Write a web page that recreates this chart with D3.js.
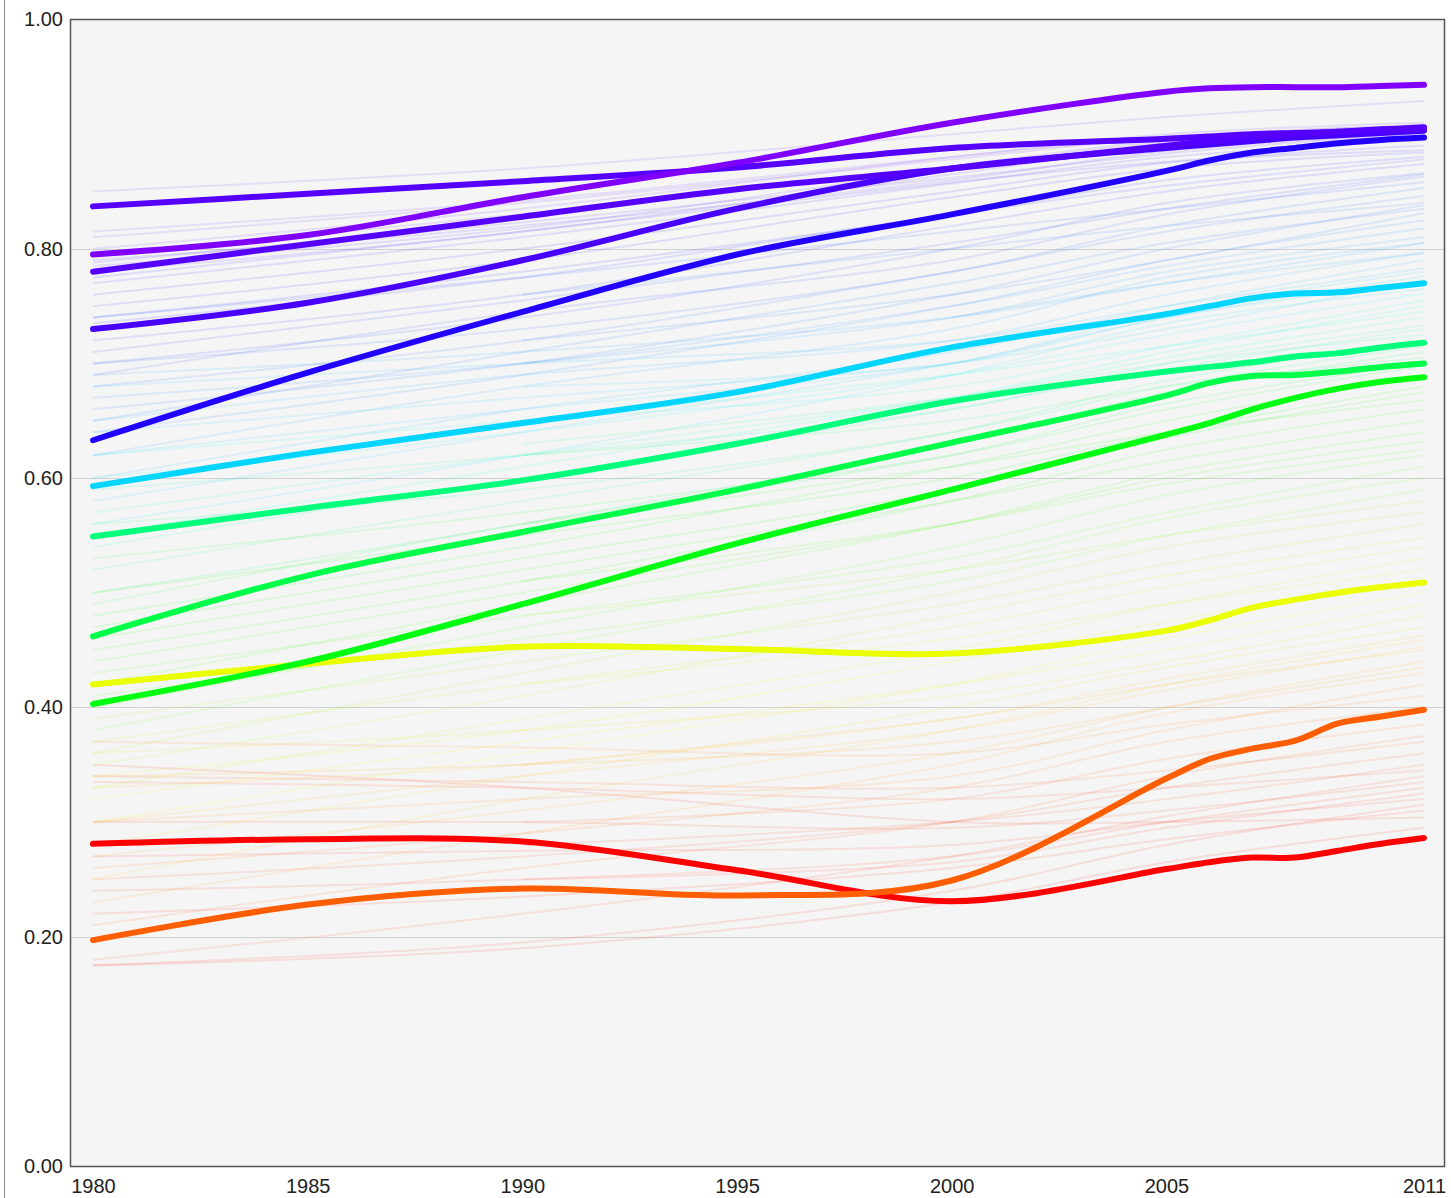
<!DOCTYPE html>
<html>
<head>
<meta charset="utf-8">
<script src="https://cdn.jsdelivr.net/npm/d3@7"></script>
<style>
  body { margin: 0; background: #fff; }
  svg { display: block; }
  .tick text { font-family: "Liberation Sans", Arial, sans-serif; font-size: 20px; fill: #222; }
</style>
</head>
<body>
<div id="chart"></div>
<script>
"use strict";

// years for the highlighted series
var years = [1980, 1985, 1990, 1995, 2000, 2005, 2006, 2007, 2008, 2009, 2010, 2011];
// years for the faint background series
var bgYears = [1980, 1990, 2000, 2005, 2011];

var yTicks = [0, 0.2, 0.4, 0.6, 0.8, 1.0];
var xTicks = [1980, 1985, 1990, 1995, 2000, 2005, 2011];

// highlighted series
var norway   = [0.795, 0.812, 0.845, 0.875, 0.910, 0.937, 0.940, 0.941, 0.941, 0.941, 0.942, 0.943];
var usa      = [0.837, 0.848, 0.859, 0.871, 0.888, 0.896, 0.898, 0.900, 0.901, 0.902, 0.904, 0.906];
var seriesC  = [0.780, 0.804, 0.828, 0.852, 0.870, 0.890, 0.894, 0.898, 0.900, 0.902, 0.904, 0.905];
var seriesD  = [0.730, 0.753, 0.790, 0.835, 0.870, 0.888, 0.891, 0.894, 0.897, 0.899, 0.901, 0.903];
var korea    = [0.633, 0.692, 0.745, 0.795, 0.830, 0.868, 0.877, 0.884, 0.888, 0.892, 0.895, 0.897];
var mexico   = [0.593, 0.622, 0.648, 0.675, 0.714, 0.743, 0.750, 0.757, 0.761, 0.762, 0.766, 0.770];
var brazil   = [0.549, 0.574, 0.598, 0.630, 0.667, 0.693, 0.697, 0.701, 0.706, 0.709, 0.714, 0.718];
var turkey   = [0.462, 0.515, 0.553, 0.590, 0.631, 0.672, 0.683, 0.689, 0.690, 0.693, 0.697, 0.700];
var china    = [0.403, 0.440, 0.490, 0.543, 0.590, 0.638, 0.648, 0.660, 0.670, 0.678, 0.684, 0.688];
var yellowS  = [0.420, 0.438, 0.453, 0.451, 0.447, 0.467, 0.476, 0.487, 0.494, 0.500, 0.505, 0.509];
var afghan   = [0.197, 0.228, 0.242, 0.236, 0.249, 0.338, 0.355, 0.364, 0.371, 0.386, 0.392, 0.398];
var congo    = [0.281, 0.285, 0.283, 0.258, 0.231, 0.259, 0.265, 0.269, 0.269, 0.275, 0.281, 0.286];

var highlights = [congo, afghan, yellowS, china, turkey, brazil, mexico, korea, seriesD, seriesC, usa, norway];

// faint background series: values at bgYears (null = no data)
var background = [
  [0.850, 0.870, 0.900, 0.915, 0.929], [0.800, 0.835, 0.880, 0.900, 0.910],
  [0.795, 0.830, 0.872, 0.895, 0.908], [0.810, 0.840, 0.878, 0.897, 0.908],
  [0.815, 0.842, 0.880, 0.898, 0.907], [0.780, 0.815, 0.865, 0.890, 0.905],
  [0.785, 0.818, 0.870, 0.893, 0.904], [0.790, 0.820, 0.860, 0.885, 0.901],
  [0.788, 0.823, 0.862, 0.883, 0.901], [0.770, 0.810, 0.857, 0.880, 0.895],
  [0.775, 0.815, 0.858, 0.876, 0.890], [0.760, 0.800, 0.850, 0.875, 0.886],
  [0.750, 0.790, 0.845, 0.870, 0.884], [0.740, 0.780, 0.830, 0.860, 0.880],
  [0.735, 0.775, 0.830, 0.855, 0.878], [0.720, 0.760, 0.820, 0.850, 0.874],
  [0.700, 0.740, 0.800, 0.840, 0.866], [0.710, 0.755, 0.805, 0.835, 0.865],
  [0.690, 0.745, 0.790, 0.830, 0.863], [0.740, 0.775, 0.815, 0.835, 0.858],
  [0.700, 0.730, 0.780, 0.820, 0.853], [0.680, 0.720, 0.780, 0.815, 0.846],
  [null, 0.760, 0.800, 0.820, 0.840], [0.660, 0.700, 0.760, 0.800, 0.838],
  [0.650, 0.710, 0.770, 0.805, 0.835], [null, 0.720, 0.760, 0.790, 0.831],
  [0.640, 0.690, 0.750, 0.790, 0.825], [0.670, 0.700, 0.750, 0.785, 0.818],
  [null, 0.700, 0.740, 0.780, 0.810], [0.620, 0.680, 0.730, 0.775, 0.805],
  [0.690, 0.710, 0.740, 0.770, 0.805], [0.650, 0.690, 0.720, 0.760, 0.797],
  [null, null, 0.740, 0.770, 0.796], [0.600, 0.660, 0.710, 0.750, 0.790],
  [0.680, 0.700, 0.720, 0.750, 0.783], [0.620, 0.660, 0.700, 0.745, 0.780],
  [0.580, 0.640, 0.700, 0.740, 0.776], [0.640, 0.670, 0.700, 0.730, 0.773],
  [null, 0.680, 0.700, 0.740, 0.771], [0.560, 0.620, 0.690, 0.735, 0.765],
  [0.600, 0.640, 0.690, 0.725, 0.761], [0.620, 0.650, 0.680, 0.715, 0.755],
  [0.550, 0.610, 0.670, 0.710, 0.750], [null, 0.650, 0.690, 0.715, 0.745],
  [0.570, 0.620, 0.670, 0.705, 0.740], [0.590, 0.620, 0.660, 0.700, 0.733],
  [0.540, 0.600, 0.660, 0.695, 0.730], [null, 0.630, 0.670, 0.700, 0.725],
  [0.520, 0.580, 0.640, 0.685, 0.720], [0.560, 0.590, 0.640, 0.680, 0.715],
  [0.500, 0.560, 0.630, 0.675, 0.710], [null, 0.620, 0.650, 0.680, 0.705],
  [0.490, 0.560, 0.620, 0.665, 0.700], [0.530, 0.570, 0.620, 0.660, 0.698],
  [0.480, 0.540, 0.610, 0.650, 0.690], [0.500, 0.550, 0.600, 0.640, 0.680],
  [0.470, 0.530, 0.590, 0.635, 0.675], [null, 0.560, 0.610, 0.640, 0.668],
  [0.450, 0.510, 0.580, 0.625, 0.660], [0.460, 0.520, 0.580, 0.615, 0.650],
  [0.420, 0.490, 0.560, 0.605, 0.640], [0.440, 0.500, 0.560, 0.600, 0.632],
  [null, 0.510, 0.560, 0.595, 0.625], [0.400, 0.470, 0.540, 0.585, 0.620],
  [0.430, 0.480, 0.530, 0.570, 0.610], [0.380, 0.450, 0.520, 0.565, 0.600],
  [0.410, 0.460, 0.510, 0.550, 0.590], [null, 0.480, 0.520, 0.550, 0.580],
  [0.360, 0.430, 0.500, 0.540, 0.570], [0.390, 0.440, 0.490, 0.525, 0.560],
  [0.350, 0.410, 0.480, 0.515, 0.548], [0.370, 0.420, 0.470, 0.505, 0.540],
  [0.330, 0.390, 0.450, 0.490, 0.530], [null, 0.420, 0.460, 0.490, 0.520],
  [0.340, 0.380, 0.440, 0.475, 0.510], [0.300, 0.360, 0.420, 0.460, 0.500],
  [0.320, 0.370, 0.420, 0.450, 0.490], [0.360, 0.380, 0.410, 0.440, 0.480],
  [0.280, 0.340, 0.400, 0.435, 0.470], [0.330, 0.350, 0.390, 0.425, 0.463],
  [0.250, 0.320, 0.380, 0.420, 0.459], [0.300, 0.340, 0.380, 0.415, 0.453],
  [null, 0.350, 0.390, 0.420, 0.450], [0.270, 0.310, 0.360, 0.400, 0.440],
  [0.340, 0.350, 0.370, 0.400, 0.435], [0.230, 0.290, 0.350, 0.395, 0.430],
  [0.300, 0.320, 0.340, 0.380, 0.420], [0.370, 0.365, 0.360, 0.385, 0.410],
  [0.260, 0.290, 0.330, 0.370, 0.400], [null, 0.300, 0.320, 0.355, 0.385],
  [0.210, 0.260, 0.300, 0.340, 0.375], [0.340, 0.335, 0.330, 0.345, 0.370],
  [0.250, 0.270, 0.300, 0.330, 0.360], [null, 0.280, 0.300, 0.320, 0.350],
  [0.335, 0.330, 0.320, 0.330, 0.345], [0.180, 0.220, 0.270, 0.305, 0.340],
  [0.300, 0.300, 0.295, 0.310, 0.335], [0.240, 0.250, 0.270, 0.300, 0.330],
  [null, 0.250, 0.265, 0.295, 0.325], [0.270, 0.275, 0.280, 0.300, 0.320],
  [0.175, 0.195, 0.240, 0.280, 0.315], [0.220, 0.235, 0.260, 0.285, 0.310],
  [0.350, 0.330, 0.300, 0.300, 0.304], [0.175, 0.190, 0.230, 0.265, 0.295]
];

var width = 1451, height = 1198;

var svg = d3.select("#chart").append("svg")
  .attr("width", width)
  .attr("height", height);

var x = d3.scaleLinear().domain([1980, 2011]).range([93, 1424]);
var y = d3.scaleLinear().domain([0, 1]).range([1166, 19.5]);

// hue follows the final (2011) value, red at the bottom to violet at the top
var hue = d3.scaleLinear()
  .domain([0.286, 0.398, 0.509, 0.688, 0.700, 0.718, 0.770, 0.850, 0.897, 0.905, 0.943])
  .range([0, 22, 65, 124, 137, 149, 190, 222, 248, 260, 270])
  .clamp(true);
function colorOf(vals) {
  return d3.hsl(hue(vals[vals.length - 1]), 1, 0.5).toString();
}

// outer left edge
svg.append("line")
  .attr("x1", 4.5).attr("x2", 4.5)
  .attr("y1", 0).attr("y2", height)
  .attr("stroke", "#888");

svg.append("rect")
  .attr("x", 70.5).attr("y", 19.5)
  .attr("width", 1374).attr("height", 1147)
  .attr("fill", "#f5f5f5");

// grid
svg.append("g").selectAll("line")
  .data([0.2, 0.4, 0.6, 0.8])
  .enter().append("line")
  .attr("x1", 71).attr("x2", 1444)
  .attr("y1", function(d) { return Math.round(y(d)) + 0.5; })
  .attr("y2", function(d) { return Math.round(y(d)) + 0.5; })
  .attr("stroke", "#d2d2d2");

var bgLine = d3.line()
  .defined(function(d) { return d != null; })
  .x(function(d, i) { return x(bgYears[i]); })
  .y(function(d) { return y(d); })
  .curve(d3.curveCatmullRom.alpha(0.5));

svg.append("g").selectAll("path")
  .data(background)
  .enter().append("path")
  .attr("d", bgLine)
  .attr("fill", "none")
  .attr("stroke", colorOf)
  .attr("stroke-opacity", 0.1)
  .attr("stroke-width", 2);

var line = d3.line()
  .x(function(d, i) { return x(years[i]); })
  .y(function(d) { return y(d); })
  .curve(d3.curveCatmullRom.alpha(0.5));

svg.append("g").selectAll("path")
  .data(highlights)
  .enter().append("path")
  .attr("d", line)
  .attr("fill", "none")
  .attr("stroke", colorOf)
  .attr("stroke-width", 6)
  .attr("stroke-linecap", "round")
  .attr("stroke-linejoin", "round");

// frame
svg.append("rect")
  .attr("x", 70.5).attr("y", 19.5)
  .attr("width", 1374).attr("height", 1147)
  .attr("fill", "none")
  .attr("stroke", "#555")
  .attr("stroke-width", 1.5);

var yAxis = svg.append("g")
  .attr("transform", "translate(63,0)")
  .call(d3.axisLeft(y).tickValues(yTicks).tickFormat(d3.format(".2f")).tickSize(0).tickPadding(0));
yAxis.select(".domain").remove();

var xAxis = svg.append("g")
  .attr("transform", "translate(0,1177)")
  .call(d3.axisBottom(x).tickValues(xTicks).tickFormat(d3.format("d")).tickSize(0).tickPadding(0));
xAxis.select(".domain").remove();
xAxis.selectAll("text").attr("dy", "0.72em").attr("y", 2);
</script>
</body>
</html>
